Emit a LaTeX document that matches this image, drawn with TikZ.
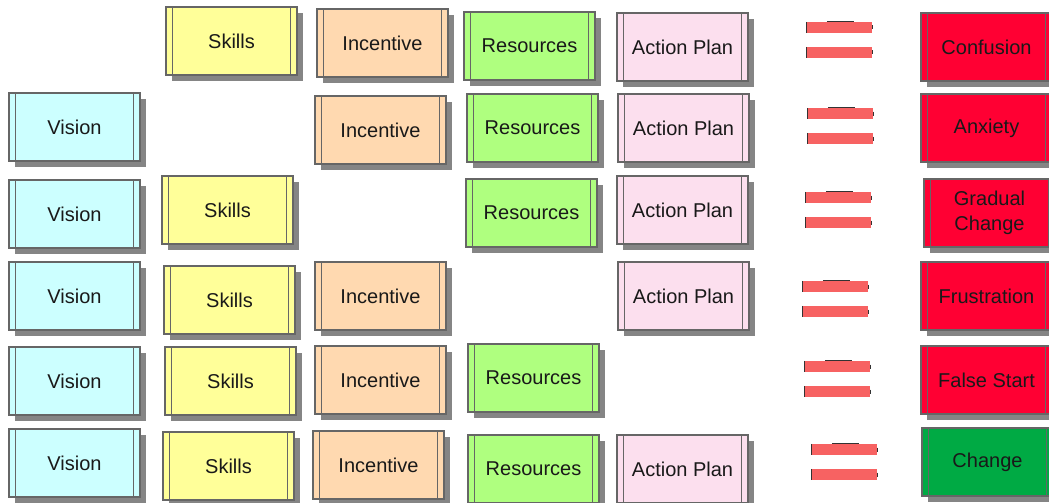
\documentclass[tikz,border=0pt]{standalone}
\usepackage{fontspec}
\setmainfont{Liberation Sans}
\definecolor{cVision}{HTML}{CCFFFF}
\definecolor{cSkills}{HTML}{FFFF99}
\definecolor{cIncent}{HTML}{FFD9B0}
\definecolor{cRes}{HTML}{AFFF7F}
\definecolor{cPlan}{HTML}{FCDFEE}
\definecolor{cBad}{HTML}{FF0033}
\definecolor{cGood}{HTML}{00AA44}
\definecolor{cBorder}{HTML}{666666}
\definecolor{cShadow}{HTML}{858585}
\definecolor{cEq}{HTML}{F76262}
\tikzset{
  box/.style={draw=cBorder, line width=1.6pt, minimum width=131pt, minimum height=68pt,
    inner sep=0pt, align=center, font=\fontsize{20}{24.5}\selectfont, text=black!90,
    path picture={\draw[cBorder, line width=1.6pt]
      ([xshift=6.5pt]path picture bounding box.north west) -- ([xshift=6.5pt]path picture bounding box.south west)
      ([xshift=-6.5pt]path picture bounding box.north east) -- ([xshift=-6.5pt]path picture bounding box.south east);}},
  boxshadow/.style={fill=cShadow, draw=none},
  eqbar/.style={fill=cEq, draw=none, minimum width=65pt, minimum height=11pt, inner sep=0pt},
  tick/.style={draw=black!80, line width=1.3pt},
}
\newcommand\bx[5]{%
  \fill[boxshadow] (#2+6,#3+6) rectangle ++(131,68);
  \node[box, fill=#4] (#1) at (#2+65.5,#3+34) {#5};}
\newcommand\eqs[3]{%
  \node[eqbar] (#1a) at (#2+32.5,#3+5.5) {};
  \node[eqbar] (#1b) at (#2+32.5,#3+30.5) {};
  \draw[tick] (#1a.north west) -- (#1a.south west);
  \draw[tick] (#1b.north west) -- (#1b.south west);
  \draw[tick] ([yshift=2pt]#1a.east) -- ([yshift=-2pt]#1a.east);
  \draw[tick] ([yshift=2pt]#1b.east) -- ([yshift=-2pt]#1b.east);
  \draw[tick] ([xshift=20pt]#1a.north west) -- ([xshift=47pt]#1a.north west);
}
\begin{document}
\begin{tikzpicture}[x=1pt,y=-1pt]
\useasboundingbox (0,0) rectangle (1049,503);
% row 1
\bx{s1}{166}{7}{cSkills}{Skills}
\bx{i1}{317}{9}{cIncent}{Incentive}
\bx{r1}{464}{12}{cRes}{Resources}
\bx{a1}{617}{13}{cPlan}{Action Plan}
\eqs{e1}{807}{22}
\bx{o1}{921}{13}{cBad}{Confusion}
% row 2
\bx{v2}{9}{93}{cVision}{Vision}
\bx{i2}{315}{96}{cIncent}{Incentive}
\bx{r2}{467}{94}{cRes}{Resources}
\bx{a2}{618}{94}{cPlan}{Action Plan}
\eqs{e2}{808}{108}
\bx{o2}{921}{94}{cBad}{Anxiety}
% row 3
\bx{v3}{9}{180}{cVision}{Vision}
\bx{s3}{162}{176}{cSkills}{Skills}
\bx{r3}{466}{179}{cRes}{Resources}
\bx{a3}{617}{176}{cPlan}{Action Plan}
\eqs{e3}{806}{192}
\bx{o3}{924}{179}{cBad}{Gradual\\Change}
% row 4
\bx{v4}{9}{262}{cVision}{Vision}
\bx{s4}{164}{266}{cSkills}{Skills}
\bx{i4}{315}{262}{cIncent}{Incentive}
\bx{a4}{618}{262}{cPlan}{Action Plan}
\eqs{e4}{803}{281}
\bx{o4}{921}{262}{cBad}{Frustration}
% row 5
\bx{v5}{9}{347}{cVision}{Vision}
\bx{s5}{165}{347}{cSkills}{Skills}
\bx{i5}{315}{346}{cIncent}{Incentive}
\bx{r5}{468}{344}{cRes}{Resources}
\eqs{e5}{805}{361}
\bx{o5}{921}{346}{cBad}{False Start}
% row 6
\bx{v6}{9}{429}{cVision}{Vision}
\bx{s6}{163}{432}{cSkills}{Skills}
\bx{i6}{313}{431}{cIncent}{Incentive}
\bx{r6}{468}{435}{cRes}{Resources}
\bx{a6}{617}{435}{cPlan}{Action Plan}
\eqs{e6}{812}{444}
\bx{o6}{922}{428}{cGood}{Change}
\end{tikzpicture}
\end{document}
